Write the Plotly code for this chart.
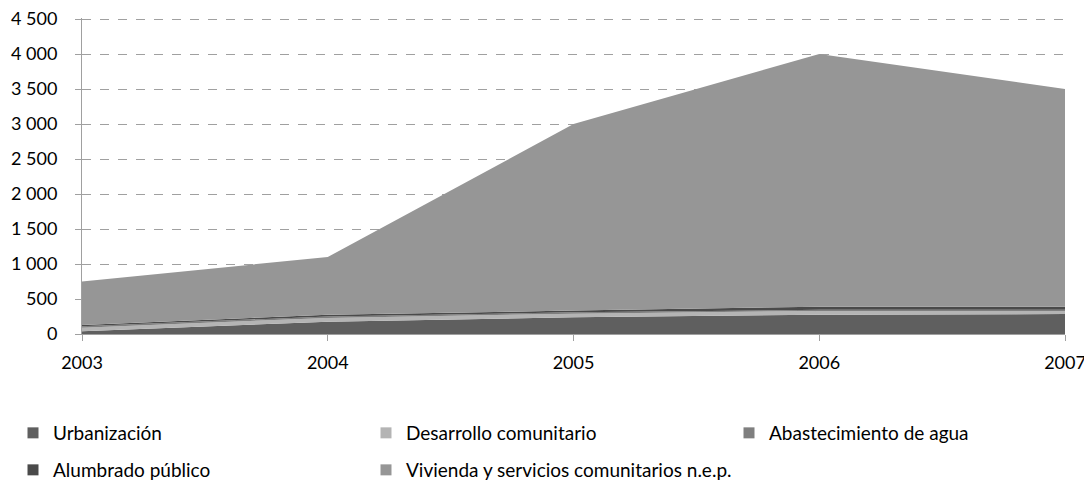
import plotly.graph_objects as go

years = [2003, 2004, 2005, 2006, 2007]
urbanizacion = [40, 175, 240, 275, 285]
desarrollo = [50, 55, 50, 55, 45]
agua = [20, 20, 20, 15, 15]
alumbrado = [20, 25, 25, 45, 45]
vivienda = [620, 825, 2665, 3610, 3110]
y_ticks = [0, 500, 1000, 1500, 2000, 2500, 3000, 3500, 4000, 4500]

names = ["Urbanización", "Desarrollo comunitario", "Abastecimiento de agua",
         "Alumbrado público", "Vivienda y servicios comunitarios n.e.p."]
values = [urbanizacion, desarrollo, agua, alumbrado, vivienda]
colors = ["#5f5f5f", "#b4b4b4", "#7f7f7f", "#4a4a4a", "#969696"]

fig = go.Figure()
for name, vals, color in zip(names, values, colors):
    fig.add_trace(go.Scatter(
        x=years, y=vals, name=name, stackgroup="one", mode="none",
        fillcolor=color, showlegend=False, hoverinfo="x+y+name",
    ))

legend_ids = ["legend", "legend2", "legend3", "legend4", "legend5"]
for name, color, lg in zip(names, colors, legend_ids):
    fig.add_trace(go.Scatter(
        x=[None], y=[None], name=name, mode="markers",
        marker=dict(symbol="square", size=11, color=color),
        legend=lg, showlegend=True,
    ))

# page body has an 8px default margin; figure is sized to fit the window
OFF = 8
W, H = 1092 - OFF, 486 - OFF

font = dict(family="Lato, 'Open Sans', sans-serif", size=18, color="#000000")
legend_font = dict(family="Lato, 'Open Sans', sans-serif", size=19, color="#000000")
leg_px = [(13, 433), (366, 433), (729, 433), (13, 470), (366, 470)]
legends = {}
for lg, (px, py) in zip(legend_ids, leg_px):
    legends[lg] = dict(
        x=(px - OFF) / W, y=1 - (py - OFF) / H, xref="container", yref="container",
        xanchor="left", yanchor="middle", orientation="h",
        font=legend_font, itemwidth=30, bgcolor="rgba(0,0,0,0)",
    )

fig.update_layout(
    width=W, height=H,
    margin=dict(l=82 - OFF, r=27, t=18 - OFF, b=152, autoexpand=False),
    paper_bgcolor="white", plot_bgcolor="white",
    separators=", ",
    font=font,
    xaxis=dict(
        range=[2003, 2007], tickvals=years, ticktext=[str(y) for y in years],
        showgrid=False, showline=True, linecolor="#a0a0a0", linewidth=1,
        ticks="outside", ticklen=6, tickcolor="#a0a0a0", ticklabelstandoff=6,
        zeroline=False, automargin=False, ticklabeloverflow="allow",
    ),
    yaxis=dict(
        range=[0, 4515], tickvals=y_ticks, tickformat=",d",
        showgrid=True, gridcolor="#a0a0a0", griddash="dash", gridwidth=1,
        showline=True, linecolor="#a0a0a0", linewidth=1,
        ticks="outside", ticklen=6, tickcolor="#a0a0a0", ticklabelstandoff=14,
        zeroline=False, automargin=False, ticklabeloverflow="allow",
    ),
    **legends,
)
fig.write_html("out.html")
